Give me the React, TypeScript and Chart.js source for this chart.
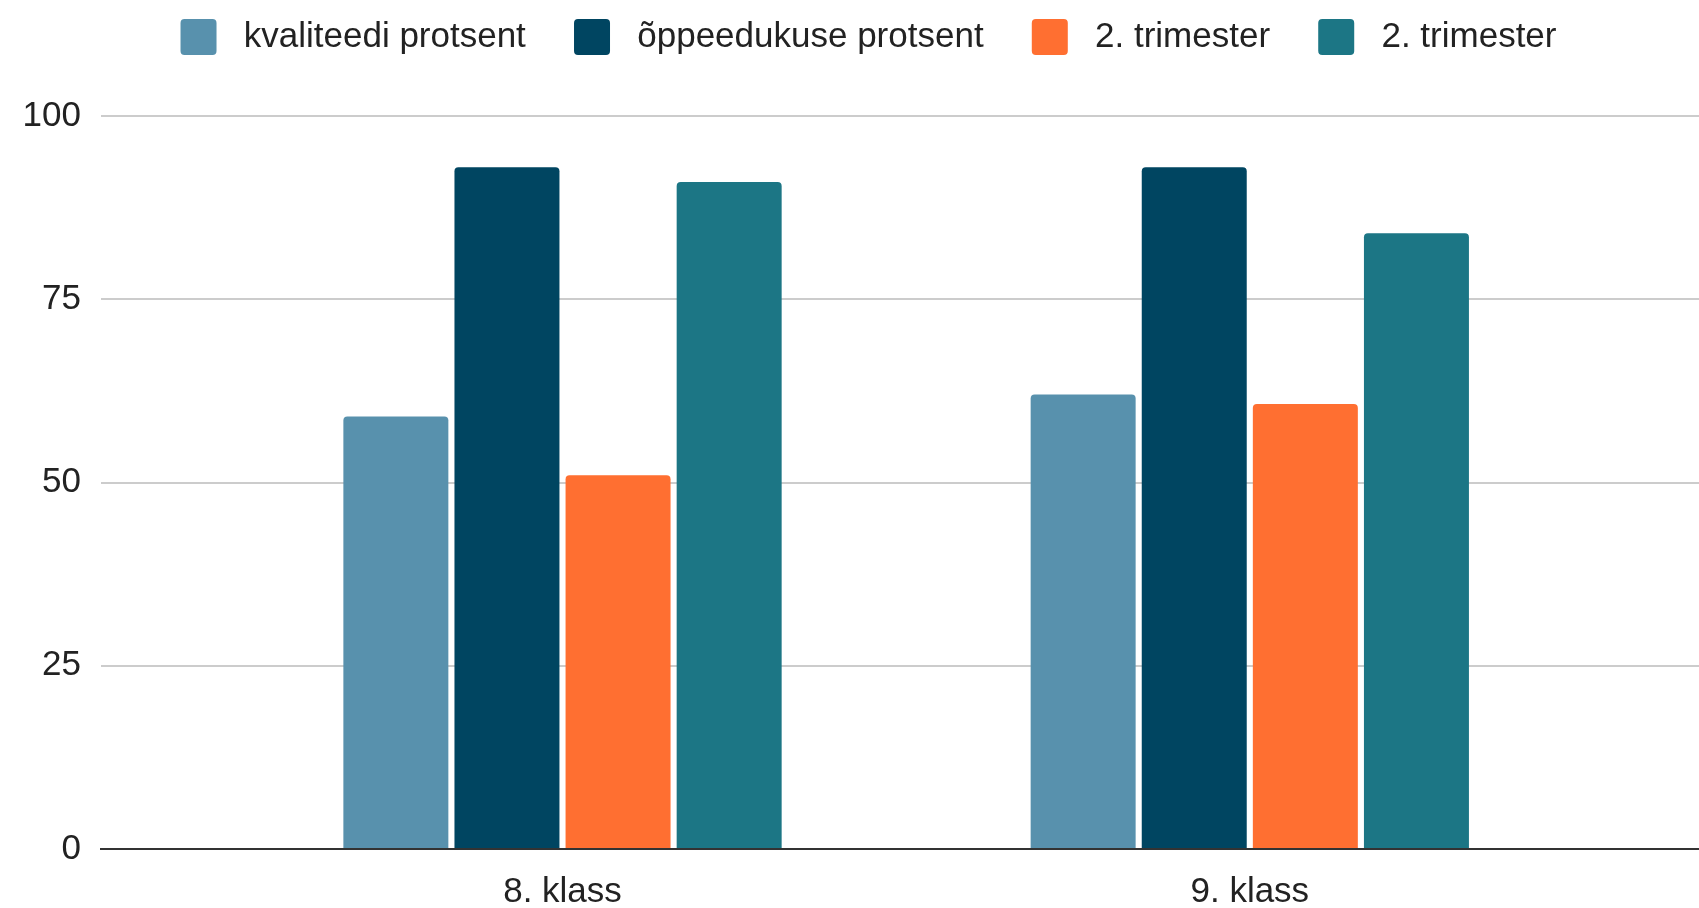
import React, { useEffect, useRef } from "react";
import { Chart, registerables } from "chart.js";

Chart.register(...registerables);

const categories = ["8. klass", "9. klass"];
const seriesLabels = ["kvaliteedi protsent", "õppeedukuse protsent", "2. trimester", "2. trimester"];
const kvaliteedi = [59, 62];
const oppeedukuse = [93, 93];
const trimesterA = [51, 60.7];
const trimesterB = [91, 84];
const yTicks = [0, 25, 50, 75, 100];
const colors = ["#5891ad", "#004561", "#ff6f31", "#1c7685"];

const FONT = "'Liberation Sans', Arial, Helvetica, sans-serif";

const legendShift = {
  id: "legendShift",
  afterLayout(chart: any) {
    if (chart.legend) {
      chart.legend.left += 38;
    }
  },
};

export default function App() {
  const ref = useRef<HTMLCanvasElement | null>(null);

  useEffect(() => {
    if (!ref.current) return;
    const seriesValues = [kvaliteedi, oppeedukuse, trimesterA, trimesterB];
    const datasets = seriesValues.map((vals, i) => ({
      label: seriesLabels[i],
      data: vals.map((v, j) => ({ x: j, y: v })),
      backgroundColor: colors[i],
      borderWidth: 0,
      borderRadius: 4,
      categoryPercentage: 0.6466,
      barPercentage: 0.945,
    }));

    const chart = new Chart(ref.current, {
      type: "bar",
      data: { datasets },
      plugins: [legendShift],
      options: {
        animation: false,
        responsive: false,
        devicePixelRatio: 1,
        layout: { padding: 0 },
        plugins: {
          tooltip: { enabled: false },
          legend: {
            display: true,
            position: "top",
            labels: {
              boxWidth: 36,
              boxHeight: 36,
              padding: 19,
              color: "#222",
              font: { family: FONT, size: 35 },
              useBorderRadius: true,
              borderRadius: 4,
              generateLabels: (c: any) => {
                const items = Chart.defaults.plugins.legend.labels.generateLabels(c);
                return items.map((it: any, i: number) => ({
                  ...it,
                  text: " " + it.text + (i < items.length - 1 ? "   " : ""),
                  lineWidth: 0,
                }));
              },
            },
          },
        },
        scales: {
          x: {
            type: "linear",
            position: "bottom",
            offset: false,
            min: -0.6715,
            max: 1.6536,
            grid: { display: false, offset: false },
            border: { display: true, color: "#333", width: 2, z: 1 },
            afterBuildTicks: (s: any) => {
              s.ticks = categories.map((_, i) => ({ value: i }));
            },
            afterFit: (s: any) => {
              s.height = 59;
            },
            ticks: {
              padding: 14,
              color: "#222",
              font: { family: FONT, size: 35 },
              maxRotation: 0,
              autoSkip: false,
              callback: (_v: any, i: number) => categories[i] ?? "",
            },
          },
          top: {
            type: "linear",
            position: "top",
            display: true,
            grid: { display: false },
            border: { display: false },
            ticks: { display: false },
            afterFit: (s: any) => {
              const lg = s.chart.legend;
              s.height = 116 - (lg ? lg.height : 0);
            },
          },
          y: {
            type: "linear",
            min: 0,
            max: 100,
            afterBuildTicks: (s: any) => {
              s.ticks = yTicks.map((v) => ({ value: v }));
            },
            afterFit: (s: any) => {
              s.width = 101;
            },
            border: { display: false },
            grid: {
              drawTicks: false,
              lineWidth: 2,
              color: (ctx: any) => (ctx.tick && ctx.tick.value === 0 ? "#333" : "#cccccc"),
            },
            ticks: {
              padding: 20,
              color: "#222",
              font: { family: FONT, size: 35 },
            },
          },
        },
      },
    } as any);

    return () => chart.destroy();
  }, []);

  return (
    <div style={{ position: "absolute", left: 0, top: 0, width: 1699, height: 908, background: "#fff" }}>
      <canvas ref={ref} width={1699} height={908} />
    </div>
  );
}
